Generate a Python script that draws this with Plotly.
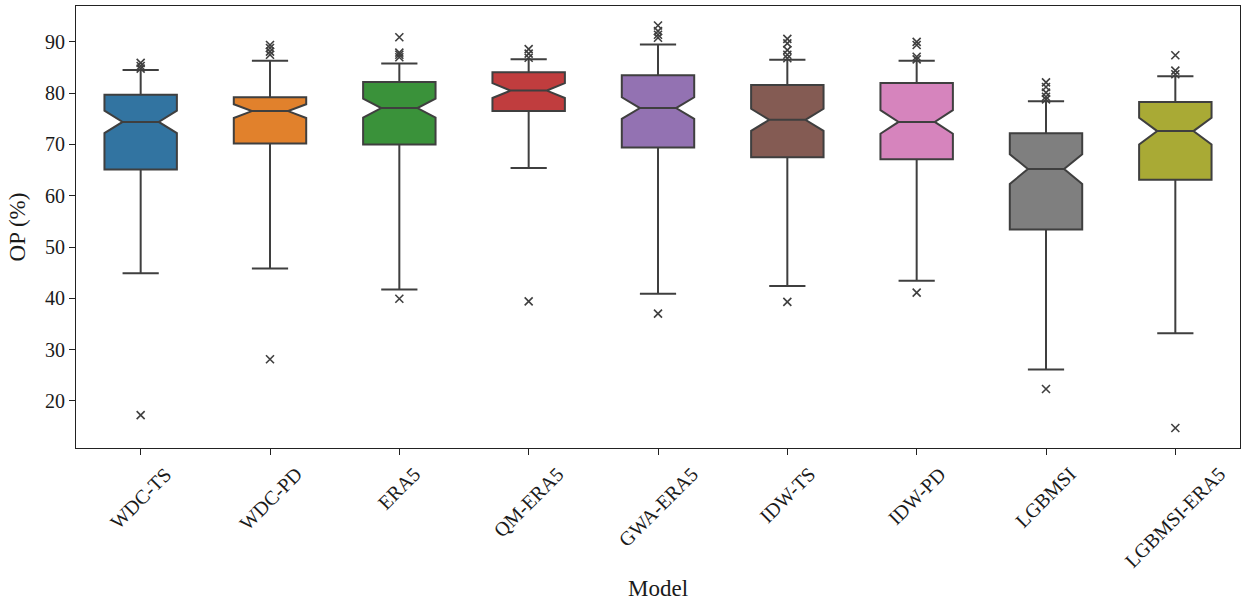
import plotly.graph_objects as go

# Model names along the x axis
models = ["WDC-TS", "WDC-PD", "ERA5", "QM-ERA5", "GWA-ERA5",
          "IDW-TS", "IDW-PD", "LGBMSI", "LGBMSI-ERA5"]

# Box statistics of OP (%) per model
q1 = [65.1, 70.2, 70.0, 76.5, 69.4, 67.5, 67.1, 53.4, 63.1]
median = [74.4, 76.5, 77.1, 80.5, 77.1, 74.8, 74.4, 65.2, 72.6]
q3 = [79.7, 79.2, 82.2, 84.1, 83.5, 81.6, 82.0, 72.2, 78.3]
lower_whisker = [44.9, 45.8, 41.7, 65.4, 40.9, 42.4, 43.4, 26.1, 33.2]
upper_whisker = [84.5, 86.3, 85.8, 86.6, 89.5, 86.5, 86.3, 78.4, 83.3]
notch_half = [2.2, 1.35, 1.85, 1.45, 2.1, 2.15, 2.3, 2.9, 2.6]

# Outlying OP values per model
outliers = [
    [17.2, 84.8, 85.3, 85.9],
    [28.1, 87.5, 88.1, 88.8, 89.4],
    [39.9, 87.0, 87.5, 87.9, 90.9],
    [39.4, 86.9, 87.7, 88.6],
    [37.0, 90.8, 91.4, 92.1, 93.2],
    [39.3, 86.8, 87.5, 88.4, 89.7, 90.6],
    [41.1, 86.6, 87.1, 89.4, 90.0],
    [22.3, 78.8, 79.3, 80.1, 81.2, 82.1],
    [14.7, 83.7, 84.4, 87.4],
]

colors = ["#3274a1", "#e1812c", "#3a923a", "#c03d3e", "#9372b2",
          "#845b53", "#d684bd", "#7f7f7f", "#a9aa35"]
edge = "#3f3f3f"
font_family = "Liberation Serif, Times New Roman, serif"

fig = go.Figure()

for i, m in enumerate(models):
    fig.add_trace(go.Box(
        x=[m], q1=[q1[i]], median=[median[i]], q3=[q3[i]],
        lowerfence=[lower_whisker[i]], upperfence=[upper_whisker[i]],
        notchspan=[notch_half[i]], notched=True, notchwidth=0.25,
        boxpoints=False, whiskerwidth=0.5,
        fillcolor=colors[i], line=dict(color=edge, width=2),
        showlegend=False, name=m,
    ))
    fig.add_trace(go.Scatter(
        x=[m] * len(outliers[i]), y=outliers[i], mode="markers",
        marker=dict(symbol="x-thin", size=8, color=edge,
                    line=dict(color=edge, width=1.6)),
        showlegend=False, hoverinfo="y",
    ))

# Rotated category labels centred under each tick
for m in models:
    fig.add_annotation(
        x=m, y=0, xref="x", yref="paper", text=m, showarrow=False,
        textangle=-45, xanchor="center", yanchor="top", yshift=-12,
        font=dict(family=font_family, size=20, color="#1a1a1a"),
    )

fig.add_annotation(
    x=0.5, y=0, xref="paper", yref="paper", text="Model", showarrow=False,
    xanchor="center", yanchor="middle", yshift=-140,
    font=dict(family=font_family, size=23, color="#1a1a1a"),
)

fig.update_layout(
    width=1241, height=603,
    margin=dict(l=76, r=1, t=6, b=155),
    paper_bgcolor="white", plot_bgcolor="white",
    boxgap=0.2, boxmode="overlay",
    font=dict(family=font_family, size=20, color="#1a1a1a"),
)
fig.update_xaxes(
    type="category", categoryorder="array", categoryarray=models,
    range=[-0.5, 8.5], showticklabels=False,
    ticks="outside", ticklen=6, tickwidth=1.2, tickcolor="#222",
    showline=True, linecolor="#222", linewidth=1.2, mirror=True,
    showgrid=False, zeroline=False,
)
fig.update_yaxes(
    range=[10.8, 97.0], tickvals=[20, 30, 40, 50, 60, 70, 80, 90],
    ticks="outside", ticklen=6, tickwidth=1.2, tickcolor="#222",
    tickfont=dict(size=20),
    showline=True, linecolor="#222", linewidth=1.2, mirror=True,
    showgrid=False, zeroline=False,
    title=dict(text="OP (%)", font=dict(size=23), standoff=12),
)

fig.write_html("out.html")
